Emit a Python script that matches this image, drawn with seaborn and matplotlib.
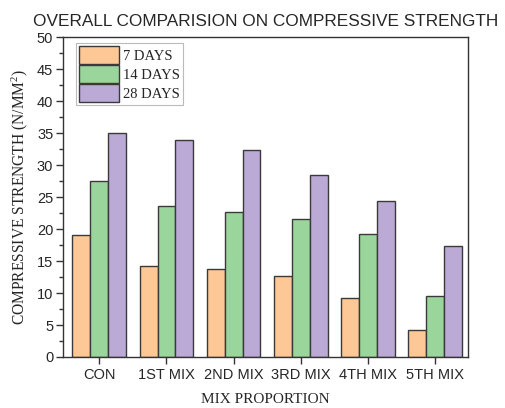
import matplotlib
matplotlib.use("Agg")
import matplotlib.pyplot as plt
from matplotlib.ticker import MultipleLocator
import seaborn as sns
import pandas as pd

mixes = ["CON", "1ST MIX", "2ND MIX", "3RD MIX", "4TH MIX", "5TH MIX"]
ages = ["7 DAYS", "14 DAYS", "28 DAYS"]
strength_7 = [19.0, 14.3, 13.8, 12.7, 9.2, 4.2]
strength_14 = [27.5, 23.6, 22.6, 21.6, 19.2, 9.5]
strength_28 = [35.0, 33.9, 32.4, 28.5, 24.4, 17.3]
colors = ["#FDC796", "#9AD59B", "#BBA9D6"]

rows = []
for age, vals in zip(ages, [strength_7, strength_14, strength_28]):
    for m, v in zip(mixes, vals):
        rows.append({"mix": m, "age": age, "strength": v})
df = pd.DataFrame(rows)

sns.set_style("white")
plt.rcParams["font.family"] = ["Liberation Sans", "DejaVu Sans"]
plt.rcParams["mathtext.fontset"] = "custom"
plt.rcParams["mathtext.rm"] = "Liberation Serif"
plt.rcParams["mathtext.it"] = "Liberation Serif:italic"

fig = plt.figure(figsize=(5.05, 4.08), dpi=100)
ax = fig.add_axes([0.1248, 0.125, 0.802, 0.784])

sns.barplot(data=df, x="mix", y="strength", hue="age", order=mixes,
            hue_order=ages, palette=colors, width=0.8, saturation=1,
            edgecolor="#3a3a3a", linewidth=1.0, ax=ax)

ax.set_ylim(0, 50)
ax.set_xlim(-0.54, 5.49)
ax.yaxis.set_major_locator(MultipleLocator(5))
ax.yaxis.set_minor_locator(MultipleLocator(2.5))
ax.tick_params(axis="y", which="major", direction="out", length=5, width=1,
               color="#333333", labelsize=10.5, left=True, right=False, pad=2)
ax.tick_params(axis="y", which="minor", direction="out", length=3, width=1,
               color="#333333", left=True, right=False)
ax.tick_params(axis="x", which="major", direction="out", length=5, width=1,
               color="#333333", labelsize=10.5, bottom=True, top=False, pad=3)
for s in ax.spines.values():
    s.set_visible(True)
    s.set_color("#333333")
    s.set_linewidth(1.0)

serif = ["Liberation Serif", "DejaVu Serif"]
ax.set_xlabel("MIX PROPORTION", family=serif, fontsize=11, labelpad=8)
ax.set_ylabel("COMPRESSIVE STRENGTH (N/MM$^2$)", family=serif, fontsize=11.2,
              labelpad=5)
ax.set_title("OVERALL COMPARISION ON COMPRESSIVE STRENGTH", fontsize=12.4,
             pad=8)

leg = ax.legend(loc="upper left", bbox_to_anchor=(0.032, 0.982),
                prop={"family": serif, "size": 10.5}, frameon=True,
                fancybox=False, edgecolor="#aaaaaa", handlelength=2.75,
                handleheight=1.5, labelspacing=0.1, handletextpad=0.27,
                borderpad=0.2, borderaxespad=0.0)
leg.get_frame().set_linewidth(0.8)

fig.savefig("out.png", dpi=100)
